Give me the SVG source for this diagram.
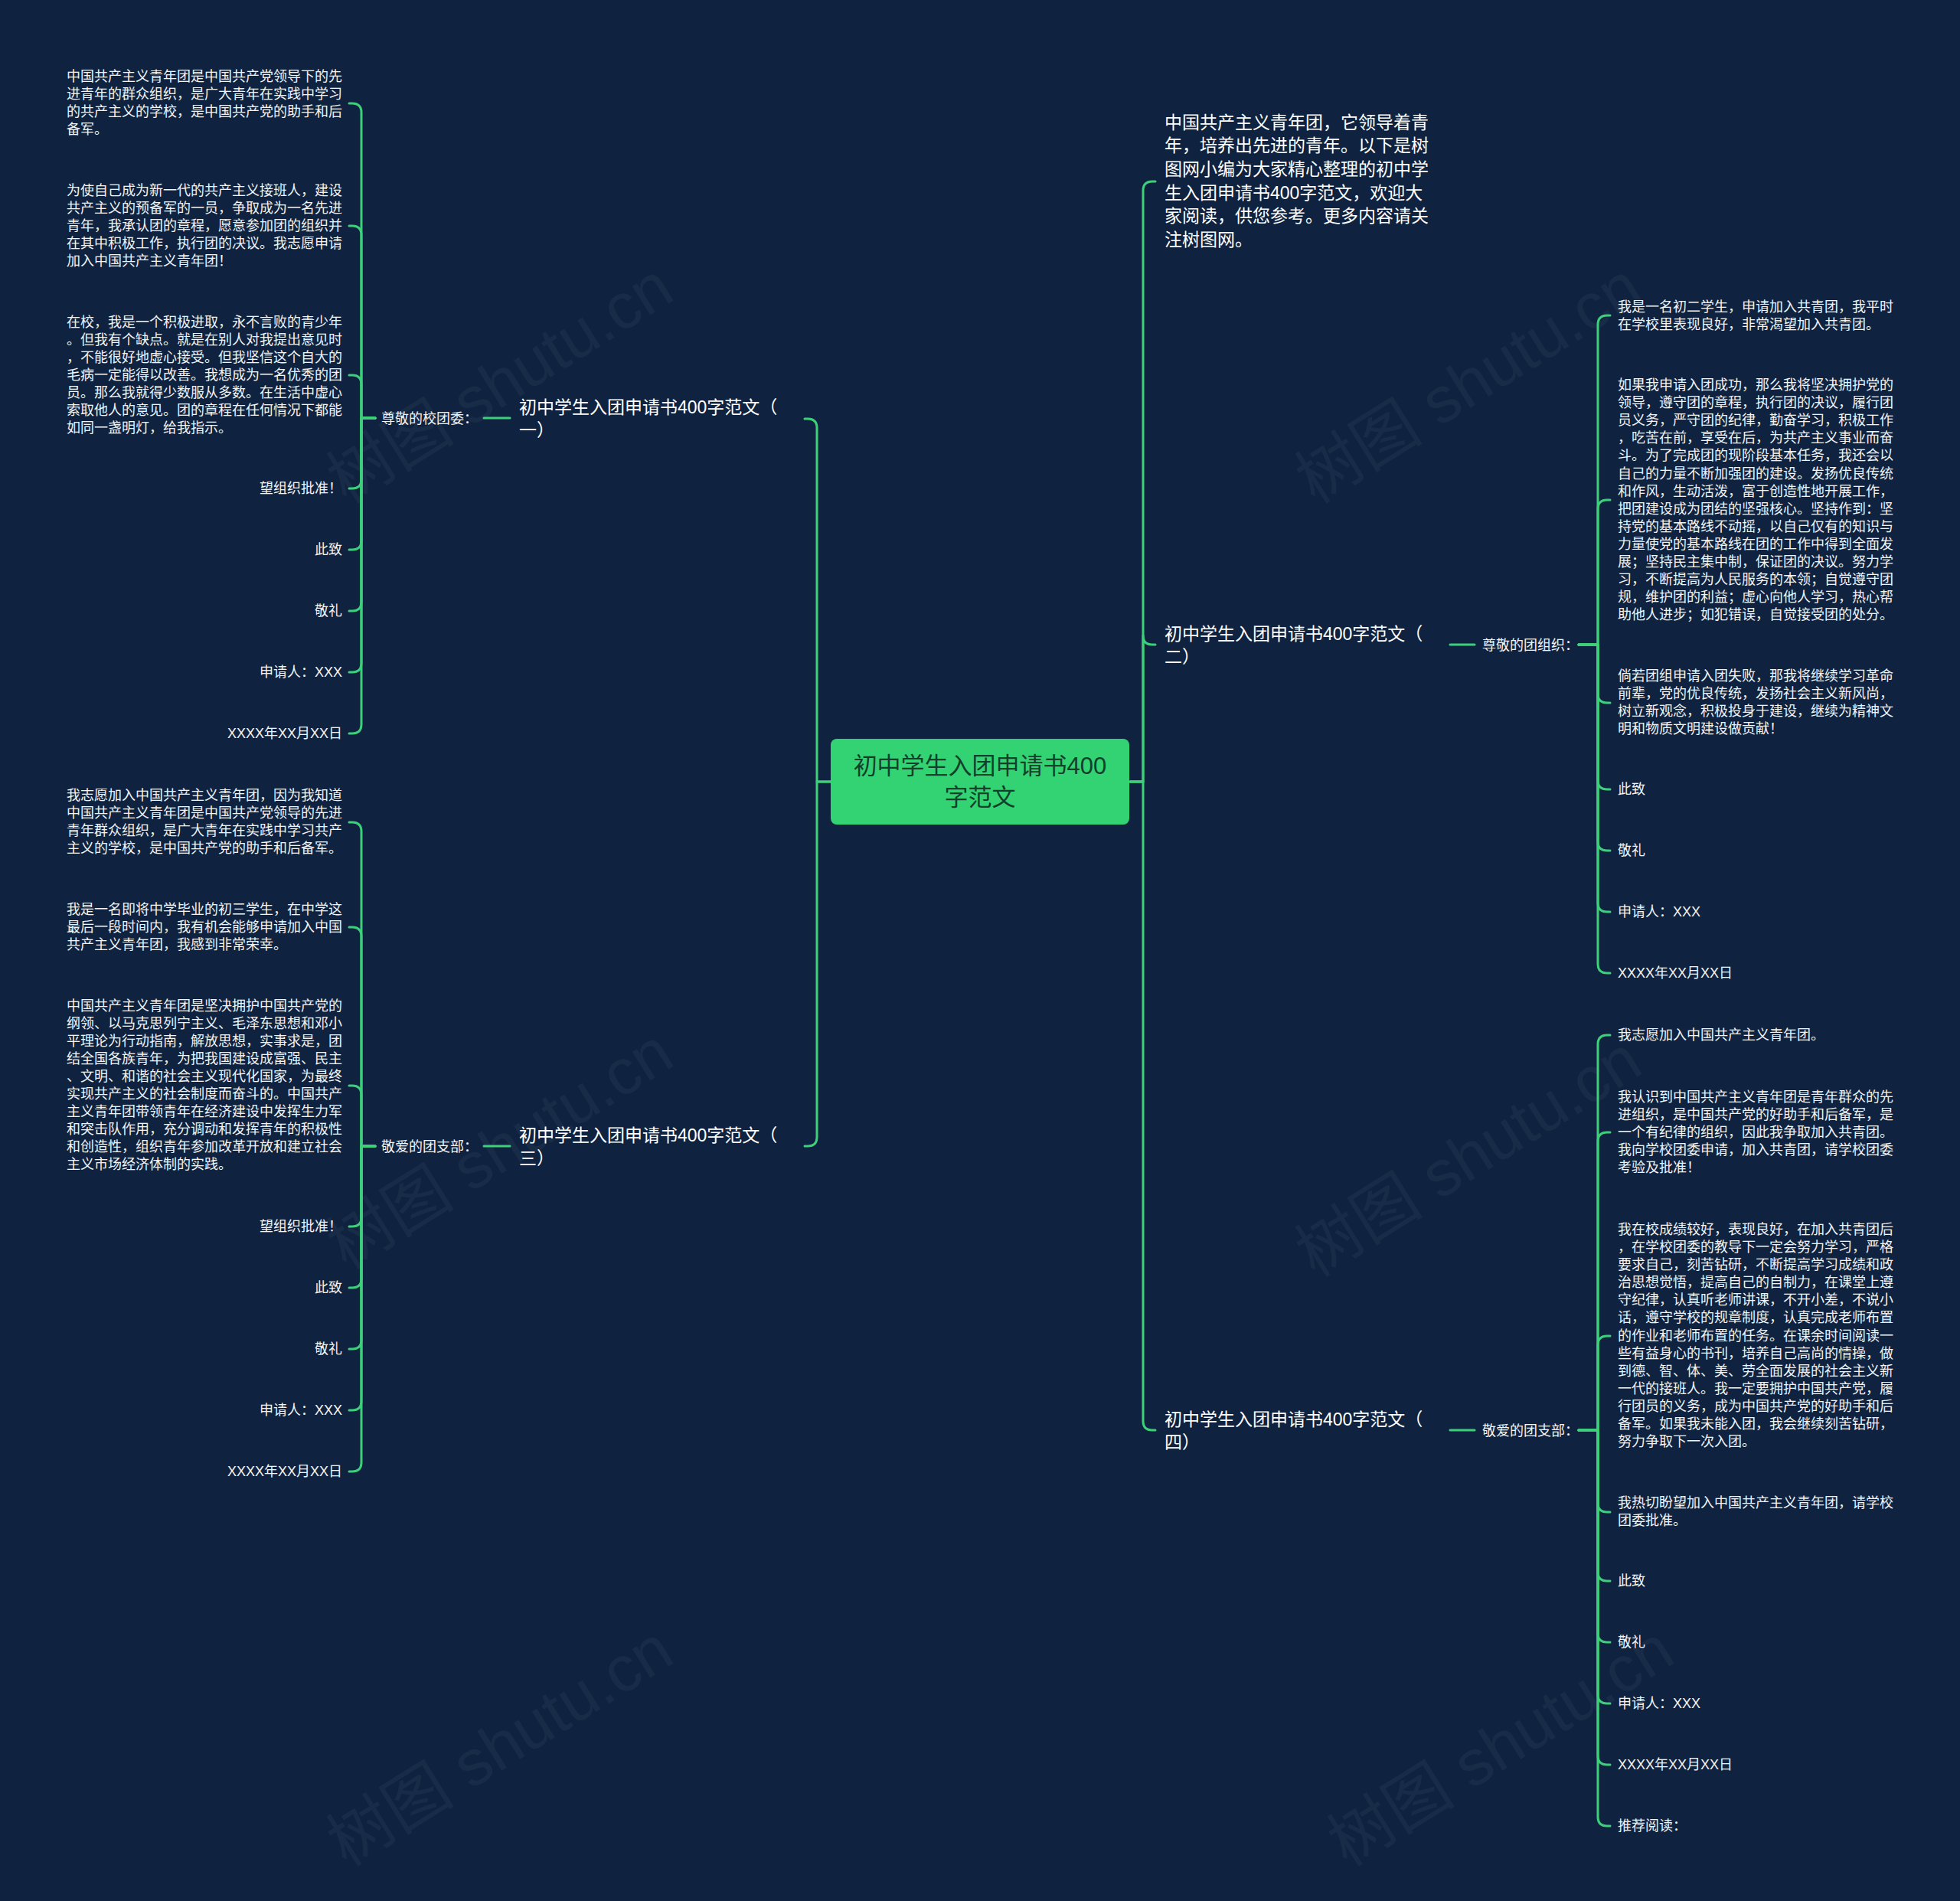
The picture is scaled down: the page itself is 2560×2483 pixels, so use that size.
<svg xmlns="http://www.w3.org/2000/svg" width="2560" height="2483" viewBox="0 0 2560 2483">
<style>
text{font-family:"Liberation Sans","Noto Sans CJK SC",sans-serif;dominant-baseline:central;}
.t18{font-size:18px;fill:#f2f4f6;}
.t23{font-size:23px;fill:#ffffff;}
.lbl{font-size:18px;fill:#f2f4f6;}
.root{font-size:31px;fill:#12402a;text-anchor:middle;}
.end{text-anchor:end;}
.wm{font-size:84px;fill:#ffffff;opacity:0.035;}
.c{fill:none;stroke:#3ecf7b;stroke-width:3;stroke-linecap:round;stroke-linejoin:round;}
</style>
<rect width="2560" height="2483" fill="#0f2340"/>
<g id="watermarks">
<text class="wm" transform="translate(653,500) rotate(-32)" text-anchor="middle">树图 shutu.cn</text>
<text class="wm" transform="translate(653,1500) rotate(-32)" text-anchor="middle">树图 shutu.cn</text>
<text class="wm" transform="translate(653,2280) rotate(-32)" text-anchor="middle">树图 shutu.cn</text>
<text class="wm" transform="translate(1918,500) rotate(-32)" text-anchor="middle">树图 shutu.cn</text>
<text class="wm" transform="translate(1918,1510) rotate(-32)" text-anchor="middle">树图 shutu.cn</text>
<text class="wm" transform="translate(1960,2280) rotate(-32)" text-anchor="middle">树图 shutu.cn</text>
</g>
<g id="connectors">
<path class="c" d="M1085 1021 H1067 V559 Q1067 547 1055 547 H1051"/>
<path class="c" d="M1085 1021 H1067 V1485 Q1067 1497 1055 1497 H1051"/>
<path class="c" d="M1476 1021 H1493 V249 Q1493 237 1505 237 H1509"/>
<path class="c" d="M1476 1021 H1493 V830 Q1493 842 1505 842 H1509"/>
<path class="c" d="M1476 1021 H1493 V1856 Q1493 1868 1505 1868 H1509"/>
<path class="c" d="M666 546 H632"/>
<path class="c" d="M666 1497 H632"/>
<path class="c" d="M1894 842 H1926"/>
<path class="c" d="M1894 1868 H1926"/>
<path class="c" d="M490 546 H472 V147 Q472 135 460 135 H456"/>
<path class="c" d="M490 546 H472 V307 Q472 295 460 295 H456"/>
<path class="c" d="M490 546 H472 V502 Q472 490 460 490 H456"/>
<path class="c" d="M490 546 H472 V626 Q472 638 460 638 H456"/>
<path class="c" d="M490 546 H472 V706 Q472 718 460 718 H456"/>
<path class="c" d="M490 546 H472 V786 Q472 798 460 798 H456"/>
<path class="c" d="M490 546 H472 V866 Q472 878 460 878 H456"/>
<path class="c" d="M490 546 H472 V946 Q472 958 460 958 H456"/>
<path class="c" d="M490 1497 H472 V1086 Q472 1074 460 1074 H456"/>
<path class="c" d="M490 1497 H472 V1223 Q472 1211 460 1211 H456"/>
<path class="c" d="M490 1497 H472 V1430 Q472 1418 460 1418 H456"/>
<path class="c" d="M490 1497 H472 V1590 Q472 1602 460 1602 H456"/>
<path class="c" d="M490 1497 H472 V1670 Q472 1682 460 1682 H456"/>
<path class="c" d="M490 1497 H472 V1750 Q472 1762 460 1762 H456"/>
<path class="c" d="M490 1497 H472 V1830 Q472 1842 460 1842 H456"/>
<path class="c" d="M490 1497 H472 V1910 Q472 1922 460 1922 H456"/>
<path class="c" d="M2062 842 H2087 V424 Q2087 412 2099 412 H2103"/>
<path class="c" d="M2062 842 H2087 V665 Q2087 653 2099 653 H2103"/>
<path class="c" d="M2062 842 H2087 V906 Q2087 918 2099 918 H2103"/>
<path class="c" d="M2062 842 H2087 V1019 Q2087 1031 2099 1031 H2103"/>
<path class="c" d="M2062 842 H2087 V1099 Q2087 1111 2099 1111 H2103"/>
<path class="c" d="M2062 842 H2087 V1179 Q2087 1191 2099 1191 H2103"/>
<path class="c" d="M2062 842 H2087 V1259 Q2087 1271 2099 1271 H2103"/>
<path class="c" d="M2062 1868 H2087 V1364 Q2087 1352 2099 1352 H2103"/>
<path class="c" d="M2062 1868 H2087 V1491 Q2087 1479 2099 1479 H2103"/>
<path class="c" d="M2062 1868 H2087 V1757 Q2087 1745 2099 1745 H2103"/>
<path class="c" d="M2062 1868 H2087 V1963 Q2087 1975 2099 1975 H2103"/>
<path class="c" d="M2062 1868 H2087 V2053 Q2087 2065 2099 2065 H2103"/>
<path class="c" d="M2062 1868 H2087 V2133 Q2087 2145 2099 2145 H2103"/>
<path class="c" d="M2062 1868 H2087 V2213 Q2087 2225 2099 2225 H2103"/>
<path class="c" d="M2062 1868 H2087 V2293 Q2087 2305 2099 2305 H2103"/>
<path class="c" d="M2062 1868 H2087 V2373 Q2087 2385 2099 2385 H2103"/>
</g>
<g id="root">
<rect x="1085" y="965" width="390" height="112" rx="8" fill="#33d374"/>
<text class="root"><tspan x="1280" y="1000">初中学生入团申请书400</tspan><tspan x="1280" y="1041">字范文</tspan></text>
</g>
<g id="intro">
<text class="t23"><tspan x="1521" y="159.5">中国共产主义青年团，它领导着青</tspan><tspan x="1521" y="190.2">年，培养出先进的青年。以下是树</tspan><tspan x="1521" y="220.9">图网小编为大家精心整理的初中学</tspan><tspan x="1521" y="251.6">生入团申请书400字范文，欢迎大</tspan><tspan x="1521" y="282.3">家阅读，供您参考。更多内容请关</tspan><tspan x="1521" y="313">注树图网。</tspan></text>
</g>
<g transform="translate(0,1)">
<g id="title1"><text class="t23"><tspan x="678" y="531">初中学生入团申请书400字范文（</tspan><tspan x="678" y="561">一）</tspan></text></g>
<g id="title3"><text class="t23"><tspan x="678" y="1482">初中学生入团申请书400字范文（</tspan><tspan x="678" y="1512">三）</tspan></text></g>
<g id="title2"><text class="t23"><tspan x="1521" y="827">初中学生入团申请书400字范文（</tspan><tspan x="1521" y="857">二）</tspan></text></g>
<g id="title4"><text class="t23"><tspan x="1521" y="1853">初中学生入团申请书400字范文（</tspan><tspan x="1521" y="1883">四）</tspan></text></g>
</g>
<g id="label1"><text class="lbl" x="498" y="547">尊敬的校团委：</text></g>
<g id="label3"><text class="lbl" x="498" y="1498">敬爱的团支部：</text></g>
<g id="label2"><text class="lbl" x="1936" y="843">尊敬的团组织：</text></g>
<g id="label4"><text class="lbl" x="1936" y="1869">敬爱的团支部：</text></g>
<g transform="translate(0,-0.5)">
<g id="b1-1"><text class="t18"><tspan x="87" y="100">中国共产主义青年团是中国共产党领导下的先</tspan><tspan x="87" y="123.1">进青年的群众组织，是广大青年在实践中学习</tspan><tspan x="87" y="146.2">的共产主义的学校，是中国共产党的助手和后</tspan><tspan x="87" y="169.3">备军。</tspan></text></g>
<g id="b1-2"><text class="t18"><tspan x="87" y="249">为使自己成为新一代的共产主义接班人，建设</tspan><tspan x="87" y="272.1">共产主义的预备军的一员，争取成为一名先进</tspan><tspan x="87" y="295.2">青年，我承认团的章程，愿意参加团的组织并</tspan><tspan x="87" y="318.3">在其中积极工作，执行团的决议。我志愿申请</tspan><tspan x="87" y="341.4">加入中国共产主义青年团！</tspan></text></g>
<g id="b1-3"><text class="t18"><tspan x="87" y="421">在校，我是一个积极进取，永不言败的青少年</tspan><tspan x="87" y="444.1">。但我有个缺点。就是在别人对我提出意见时</tspan><tspan x="87" y="467.2">，不能很好地虚心接受。但我坚信这个自大的</tspan><tspan x="87" y="490.3">毛病一定能得以改善。我想成为一名优秀的团</tspan><tspan x="87" y="513.4">员。那么我就得少数服从多数。在生活中虚心</tspan><tspan x="87" y="536.5">索取他人的意见。团的章程在任何情况下都能</tspan><tspan x="87" y="559.6">如同一盏明灯，给我指示。</tspan></text></g>
<g id="b1-4"><text class="t18 end" x="447" y="638">望组织批准！</text></g>
<g id="b1-5"><text class="t18 end" x="447" y="718">此致</text></g>
<g id="b1-6"><text class="t18 end" x="447" y="798">敬礼</text></g>
<g id="b1-7"><text class="t18 end" x="447" y="878">申请人：XXX</text></g>
<g id="b1-8"><text class="t18 end" x="447" y="958">XXXX年XX月XX日</text></g>
<g id="b3-1"><text class="t18"><tspan x="87" y="1039">我志愿加入中国共产主义青年团，因为我知道</tspan><tspan x="87" y="1062.1">中国共产主义青年团是中国共产党领导的先进</tspan><tspan x="87" y="1085.2">青年群众组织，是广大青年在实践中学习共产</tspan><tspan x="87" y="1108.3">主义的学校，是中国共产党的助手和后备军。</tspan></text></g>
<g id="b3-2"><text class="t18"><tspan x="87" y="1188">我是一名即将中学毕业的初三学生，在中学这</tspan><tspan x="87" y="1211.1">最后一段时间内，我有机会能够申请加入中国</tspan><tspan x="87" y="1234.2">共产主义青年团，我感到非常荣幸。</tspan></text></g>
<g id="b3-3"><text class="t18"><tspan x="87" y="1314">中国共产主义青年团是坚决拥护中国共产党的</tspan><tspan x="87" y="1337.1">纲领、以马克思列宁主义、毛泽东思想和邓小</tspan><tspan x="87" y="1360.2">平理论为行动指南，解放思想，实事求是，团</tspan><tspan x="87" y="1383.3">结全国各族青年，为把我国建设成富强、民主</tspan><tspan x="87" y="1406.4">、文明、和谐的社会主义现代化国家，为最终</tspan><tspan x="87" y="1429.5">实现共产主义的社会制度而奋斗的。中国共产</tspan><tspan x="87" y="1452.6">主义青年团带领青年在经济建设中发挥生力军</tspan><tspan x="87" y="1475.7">和突击队作用，充分调动和发挥青年的积极性</tspan><tspan x="87" y="1498.8">和创造性，组织青年参加改革开放和建立社会</tspan><tspan x="87" y="1521.9">主义市场经济体制的实践。</tspan></text></g>
<g id="b3-4"><text class="t18 end" x="447" y="1602">望组织批准！</text></g>
<g id="b3-5"><text class="t18 end" x="447" y="1682">此致</text></g>
<g id="b3-6"><text class="t18 end" x="447" y="1762">敬礼</text></g>
<g id="b3-7"><text class="t18 end" x="447" y="1842">申请人：XXX</text></g>
<g id="b3-8"><text class="t18 end" x="447" y="1922">XXXX年XX月XX日</text></g>
<g id="b2-1"><text class="t18"><tspan x="2113" y="401">我是一名初二学生，申请加入共青团，我平时</tspan><tspan x="2113" y="424.1">在学校里表现良好，非常渴望加入共青团。</tspan></text></g>
<g id="b2-2"><text class="t18"><tspan x="2113" y="503.5">如果我申请入团成功，那么我将坚决拥护党的</tspan><tspan x="2113" y="526.6">领导，遵守团的章程，执行团的决议，履行团</tspan><tspan x="2113" y="549.7">员义务，严守团的纪律，勤奋学习，积极工作</tspan><tspan x="2113" y="572.8">，吃苦在前，享受在后，为共产主义事业而奋</tspan><tspan x="2113" y="595.9">斗。为了完成团的现阶段基本任务，我还会以</tspan><tspan x="2113" y="619">自己的力量不断加强团的建设。发扬优良传统</tspan><tspan x="2113" y="642.1">和作风，生动活泼，富于创造性地开展工作，</tspan><tspan x="2113" y="665.2">把团建设成为团结的坚强核心。坚持作到：坚</tspan><tspan x="2113" y="688.3">持党的基本路线不动摇，以自己仅有的知识与</tspan><tspan x="2113" y="711.4">力量使党的基本路线在团的工作中得到全面发</tspan><tspan x="2113" y="734.5">展；坚持民主集中制，保证团的决议。努力学</tspan><tspan x="2113" y="757.6">习，不断提高为人民服务的本领；自觉遵守团</tspan><tspan x="2113" y="780.7">规，维护团的利益；虚心向他人学习，热心帮</tspan><tspan x="2113" y="803.8">助他人进步；如犯错误，自觉接受团的处分。</tspan></text></g>
<g id="b2-3"><text class="t18"><tspan x="2113" y="883.5">倘若团组申请入团失败，那我将继续学习革命</tspan><tspan x="2113" y="906.6">前辈，党的优良传统，发扬社会主义新风尚，</tspan><tspan x="2113" y="929.7">树立新观念，积极投身于建设，继续为精神文</tspan><tspan x="2113" y="952.8">明和物质文明建设做贡献！</tspan></text></g>
<g id="b2-4"><text class="t18" x="2113" y="1031">此致</text></g>
<g id="b2-5"><text class="t18" x="2113" y="1111">敬礼</text></g>
<g id="b2-6"><text class="t18" x="2113" y="1191">申请人：XXX</text></g>
<g id="b2-7"><text class="t18" x="2113" y="1271">XXXX年XX月XX日</text></g>
<g id="b4-1"><text class="t18" x="2113" y="1352">我志愿加入中国共产主义青年团。</text></g>
<g id="b4-2"><text class="t18"><tspan x="2113" y="1433">我认识到中国共产主义青年团是青年群众的先</tspan><tspan x="2113" y="1456.1">进组织，是中国共产党的好助手和后备军，是</tspan><tspan x="2113" y="1479.2">一个有纪律的组织，因此我争取加入共青团。</tspan><tspan x="2113" y="1502.3">我向学校团委申请，加入共青团，请学校团委</tspan><tspan x="2113" y="1525.4">考验及批准！</tspan></text></g>
<g id="b4-3"><text class="t18"><tspan x="2113" y="1606.4">我在校成绩较好，表现良好，在加入共青团后</tspan><tspan x="2113" y="1629.5">，在学校团委的教导下一定会努力学习，严格</tspan><tspan x="2113" y="1652.6">要求自己，刻苦钻研，不断提高学习成绩和政</tspan><tspan x="2113" y="1675.7">治思想觉悟，提高自己的自制力，在课堂上遵</tspan><tspan x="2113" y="1698.8">守纪律，认真听老师讲课，不开小差，不说小</tspan><tspan x="2113" y="1721.9">话，遵守学校的规章制度，认真完成老师布置</tspan><tspan x="2113" y="1745">的作业和老师布置的任务。在课余时间阅读一</tspan><tspan x="2113" y="1768.1">些有益身心的书刊，培养自己高尚的情操，做</tspan><tspan x="2113" y="1791.2">到德、智、体、美、劳全面发展的社会主义新</tspan><tspan x="2113" y="1814.3">一代的接班人。我一定要拥护中国共产党，履</tspan><tspan x="2113" y="1837.4">行团员的义务，成为中国共产党的好助手和后</tspan><tspan x="2113" y="1860.5">备军。如果我未能入团，我会继续刻苦钻研，</tspan><tspan x="2113" y="1883.6">努力争取下一次入团。</tspan></text></g>
<g id="b4-4"><text class="t18"><tspan x="2113" y="1963.5">我热切盼望加入中国共产主义青年团，请学校</tspan><tspan x="2113" y="1986.6">团委批准。</tspan></text></g>
<g id="b4-5"><text class="t18" x="2113" y="2065">此致</text></g>
<g id="b4-6"><text class="t18" x="2113" y="2145">敬礼</text></g>
<g id="b4-7"><text class="t18" x="2113" y="2225">申请人：XXX</text></g>
<g id="b4-8"><text class="t18" x="2113" y="2305">XXXX年XX月XX日</text></g>
<g id="b4-9"><text class="t18" x="2113" y="2385">推荐阅读：</text></g>
</g>
</svg>
